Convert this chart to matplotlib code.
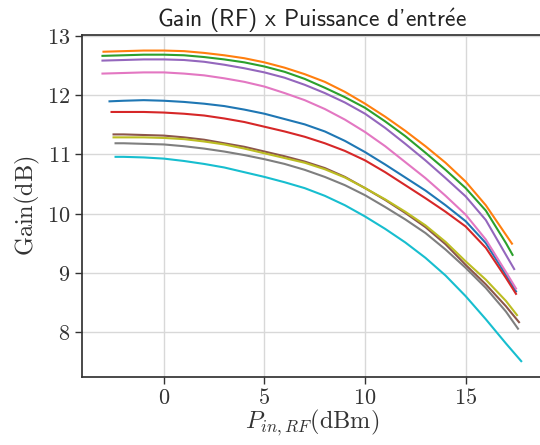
import matplotlib
matplotlib.use("Agg")
import matplotlib.pyplot as plt

# Input power sweeps (dBm) and gain (dB) for each measured curve
pin_c0 = [-2.7, -2, -1, 0, 1, 2, 3, 4, 5, 6, 7, 8, 9, 10, 11, 12, 13, 14, 15, 16, 17, 17.5]
gain_c0 = [11.90, 11.91, 11.92, 11.91, 11.89, 11.86, 11.82, 11.76, 11.69, 11.60, 11.51, 11.39,
           11.23, 11.04, 10.83, 10.61, 10.39, 10.14, 9.87, 9.50, 8.96, 8.68]

pin_c1 = [-3.0, -2, -1, 0, 1, 2, 3, 4, 5, 6, 7, 8, 9, 10, 11, 12, 13, 14, 15, 16, 17, 17.3]
gain_c1 = [12.74, 12.75, 12.76, 12.76, 12.75, 12.72, 12.68, 12.63, 12.56, 12.47, 12.36, 12.23,
           12.06, 11.86, 11.64, 11.40, 11.14, 10.86, 10.54, 10.14, 9.64, 9.49]

pin_c2 = [-3.05, -2, -1, 0, 1, 2, 3, 4, 5, 6, 7, 8, 9, 10, 11, 12, 13, 14, 15, 16, 17, 17.33]
gain_c2 = [12.67, 12.68, 12.69, 12.69, 12.68, 12.65, 12.61, 12.56, 12.49, 12.40, 12.28, 12.13,
           11.97, 11.79, 11.56, 11.31, 11.03, 10.74, 10.43, 10.05, 9.50, 9.30]

pin_c3 = [-2.6, -2, -1, 0, 1, 2, 3, 4, 5, 6, 7, 8, 9, 10, 11, 12, 13, 14, 15, 16, 17, 17.5]
gain_c3 = [11.72, 11.72, 11.72, 11.71, 11.69, 11.66, 11.61, 11.55, 11.47, 11.39, 11.30, 11.19,
           11.06, 10.90, 10.70, 10.48, 10.26, 10.03, 9.78, 9.42, 8.91, 8.64]

pin_c4 = [-3.05, -2, -1, 0, 1, 2, 3, 4, 5, 6, 7, 8, 9, 10, 11, 12, 13, 14, 15, 16, 17, 17.41]
gain_c4 = [12.59, 12.60, 12.61, 12.61, 12.60, 12.57, 12.52, 12.46, 12.39, 12.30, 12.18, 12.04,
           11.88, 11.69, 11.45, 11.18, 10.90, 10.60, 10.29, 9.89, 9.30, 9.06]

pin_c5 = [-2.5, -2, -1, 0, 1, 2, 3, 4, 5, 6, 7, 8, 9, 10, 11, 12, 13, 14, 15, 16, 17, 17.65]
gain_c5 = [11.34, 11.34, 11.33, 11.32, 11.29, 11.25, 11.19, 11.13, 11.05, 10.97, 10.88, 10.77,
           10.62, 10.43, 10.23, 10.01, 9.77, 9.48, 9.13, 8.80, 8.43, 8.16]

pin_c6 = [-3.05, -2, -1, 0, 1, 2, 3, 4, 5, 6, 7, 8, 9, 10, 11, 12, 13, 14, 15, 16, 17, 17.5]
gain_c6 = [12.37, 12.38, 12.39, 12.39, 12.37, 12.34, 12.29, 12.23, 12.15, 12.04, 11.92, 11.77,
           11.59, 11.38, 11.14, 10.87, 10.60, 10.30, 9.98, 9.56, 9.01, 8.73]

pin_c7 = [-2.4, -2, -1, 0, 1, 2, 3, 4, 5, 6, 7, 8, 9, 10, 11, 12, 13, 14, 15, 16, 17, 17.6]
gain_c7 = [11.19, 11.19, 11.18, 11.17, 11.14, 11.10, 11.05, 10.99, 10.92, 10.84, 10.74, 10.62,
           10.48, 10.31, 10.11, 9.90, 9.67, 9.39, 9.08, 8.74, 8.34, 8.05]

pin_c8 = [-2.5, -2, -1, 0, 1, 2, 3, 4, 5, 6, 7, 8, 9, 10, 11, 12, 13, 14, 15, 16, 17, 17.55]
gain_c8 = [11.29, 11.29, 11.29, 11.28, 11.26, 11.22, 11.17, 11.10, 11.02, 10.94, 10.86, 10.75,
           10.61, 10.43, 10.24, 10.03, 9.80, 9.52, 9.19, 8.88, 8.52, 8.28]

pin_c9 = [-2.4, -2, -1, 0, 1, 2, 3, 4, 5, 6, 7, 8, 9, 10, 11, 12, 13, 14, 15, 16, 17, 17.76]
gain_c9 = [10.96, 10.96, 10.95, 10.93, 10.89, 10.84, 10.78, 10.70, 10.62, 10.53, 10.43, 10.30,
           10.14, 9.95, 9.74, 9.51, 9.25, 8.95, 8.60, 8.21, 7.80, 7.50]

series = [(pin_c0, gain_c0), (pin_c1, gain_c1), (pin_c2, gain_c2), (pin_c3, gain_c3),
          (pin_c4, gain_c4), (pin_c5, gain_c5), (pin_c6, gain_c6), (pin_c7, gain_c7),
          (pin_c8, gain_c8), (pin_c9, gain_c9)]

plt.rcParams["mathtext.fontset"] = "cm"

fig = plt.figure(figsize=(5.4, 4.45), dpi=100)
ax = fig.add_axes([0.151, 0.1535, 0.853, 0.7678])

for i, (x, y) in enumerate(series):
    ax.plot(x, y, color=f"C{i}", lw=1.5)

ax.grid(True, color="#d8d8d8", lw=1.0)
ax.set_axisbelow(True)
for side in ("left", "bottom", "top"):
    ax.spines[side].set_color("#333333")
    ax.spines[side].set_linewidth(1.25)
ax.spines["right"].set_visible(False)

ax.tick_params(axis="both", direction="out", length=5, width=1.0, color="#333333",
               labelcolor="#333333", labelsize=16, pad=3)
ax.tick_params(axis="y", right=False)
ax.set_xticks([0, 5, 10, 15])
ax.set_yticks([8, 9, 10, 11, 12, 13])
ax.set_xticklabels([f"${v}$" for v in [0, 5, 10, 15]])
ax.set_yticklabels([f"${v}$" for v in [8, 9, 10, 11, 12, 13]])

ax.set_xlabel(r"$P_{in,RF}(\mathrm{dBm})$", fontsize=17.5, color="#333333", labelpad=0)
ax.set_ylabel(r"$\mathrm{Gain(dB)}$", fontsize=17.5, color="#333333", labelpad=4)
ax.set_title(r"Gain (RF) x Puissance d'entr$\mathsf{\acute{e}}$e",
             family="cmss10", fontsize=17, color="#222222", pad=4)

fig.savefig("out.png", dpi=100)
